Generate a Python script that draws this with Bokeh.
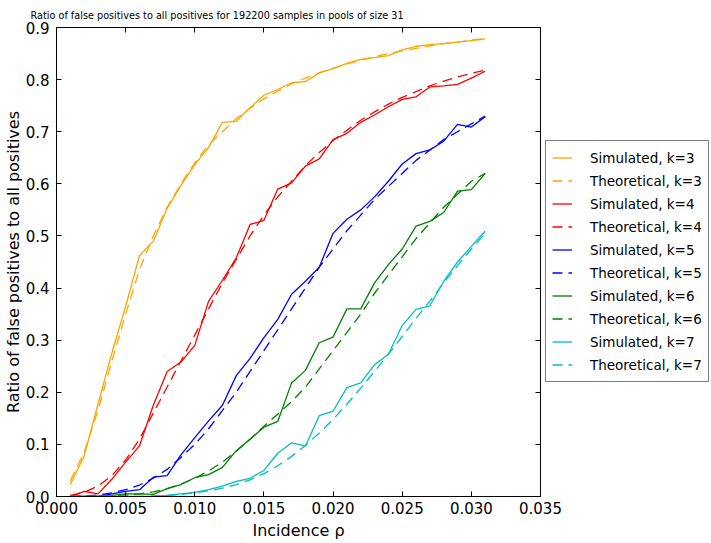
from bokeh.plotting import figure
from bokeh.layouts import row
from bokeh.models import (Range1d, Legend, LegendItem, LinearAxis, SingleIntervalTicker,
                          NumeralTickFormatter, CustomJSTickFormatter)
from bokeh.embed import file_html
from bokeh.resources import INLINE

# ---------------- data ----------------
rho = [0.001, 0.002, 0.003, 0.004, 0.005, 0.006, 0.007, 0.008, 0.009, 0.010,
       0.011, 0.012, 0.013, 0.014, 0.015, 0.016, 0.017, 0.018, 0.019, 0.020,
       0.021, 0.022, 0.023, 0.024, 0.025, 0.026, 0.027, 0.028, 0.029, 0.030, 0.031]

sim_k3 = [0.023, 0.078, 0.177, 0.275, 0.365, 0.462, 0.490, 0.553, 0.597, 0.637,
          0.670, 0.718, 0.720, 0.746, 0.770, 0.781, 0.794, 0.796, 0.813, 0.821,
          0.831, 0.839, 0.842, 0.846, 0.857, 0.864, 0.867, 0.869, 0.872, 0.875, 0.878]
theo_k3 = [0.030, 0.085, 0.165, 0.260, 0.350, 0.435, 0.500, 0.555, 0.600, 0.640,
           0.675, 0.700, 0.725, 0.745, 0.763, 0.778, 0.792, 0.803, 0.813, 0.822,
           0.830, 0.837, 0.844, 0.850, 0.855, 0.860, 0.865, 0.869, 0.872, 0.876, 0.879]

sim_k4 = [0.000, 0.010, 0.005, 0.033, 0.066, 0.097, 0.175, 0.240, 0.258, 0.290,
          0.375, 0.415, 0.458, 0.522, 0.530, 0.590, 0.602, 0.634, 0.648, 0.685,
          0.697, 0.718, 0.732, 0.748, 0.762, 0.767, 0.786, 0.788, 0.791, 0.803, 0.816]
theo_k4 = [0.002, 0.008, 0.020, 0.040, 0.070, 0.110, 0.160, 0.210, 0.260, 0.310,
           0.360, 0.410, 0.455, 0.500, 0.540, 0.575, 0.605, 0.635, 0.660, 0.683,
           0.703, 0.722, 0.738, 0.753, 0.766, 0.777, 0.788, 0.797, 0.805, 0.812, 0.818]

sim_k5 = [0.000, 0.000, 0.000, 0.005, 0.010, 0.013, 0.037, 0.040, 0.080, 0.113,
          0.145, 0.175, 0.232, 0.265, 0.305, 0.340, 0.388, 0.413, 0.440, 0.505,
          0.532, 0.550, 0.575, 0.605, 0.638, 0.658, 0.665, 0.682, 0.714, 0.709, 0.729]
theo_k5 = [0.000, 0.001, 0.003, 0.007, 0.013, 0.022, 0.035, 0.052, 0.075, 0.100,
           0.130, 0.165, 0.200, 0.240, 0.280, 0.320, 0.360, 0.400, 0.440, 0.475,
           0.510, 0.540, 0.570, 0.595, 0.620, 0.645, 0.665, 0.685, 0.700, 0.715, 0.730]

sim_k6 = [0.000, 0.000, 0.000, 0.002, 0.005, 0.005, 0.004, 0.015, 0.023, 0.036,
          0.042, 0.056, 0.088, 0.110, 0.133, 0.144, 0.218, 0.242, 0.295, 0.306,
          0.360, 0.360, 0.410, 0.445, 0.475, 0.519, 0.528, 0.545, 0.586, 0.589, 0.620]
theo_k6 = [0.000, 0.000, 0.000, 0.001, 0.003, 0.005, 0.009, 0.015, 0.024, 0.035,
           0.049, 0.066, 0.087, 0.110, 0.135, 0.158, 0.182, 0.210, 0.245, 0.280,
           0.315, 0.350, 0.390, 0.425, 0.460, 0.495, 0.525, 0.555, 0.580, 0.605, 0.620]

sim_k7 = [0.000, 0.000, 0.000, 0.000, 0.000, 0.000, 0.000, 0.002, 0.005, 0.008,
          0.013, 0.020, 0.029, 0.035, 0.050, 0.083, 0.103, 0.097, 0.155, 0.164,
          0.209, 0.218, 0.253, 0.273, 0.328, 0.359, 0.366, 0.413, 0.450, 0.480, 0.509]
theo_k7 = [0.000, 0.000, 0.000, 0.000, 0.000, 0.000, 0.001, 0.002, 0.004, 0.007,
           0.011, 0.016, 0.023, 0.032, 0.044, 0.059, 0.077, 0.098, 0.122, 0.148,
           0.177, 0.208, 0.240, 0.273, 0.307, 0.342, 0.375, 0.410, 0.443, 0.475, 0.505]

k_values = [3, 4, 5, 6, 7]
colors = ["#FFA500", "#FF0000", "#0000FF", "#008000", "#00BFBF"]
sims = [sim_k3, sim_k4, sim_k5, sim_k6, sim_k7]
theos = [theo_k3, theo_k4, theo_k5, theo_k6, theo_k7]

title_text = "Ratio of false positives to all positives for 192200 samples in pools of size 31"
x_label = "Incidence \u03c1"
y_label = "Ratio of false positives to all positives"

FONT = "DejaVu Sans"
DASH = "10 6"
LW = 1.3

# ---------------- main figure ----------------
p = figure(frame_width=484, frame_height=469, output_backend="svg", toolbar_location=None,
           x_range=Range1d(0, 0.035), y_range=Range1d(0, 0.9),
           min_border_left=0, min_border_right=24, min_border_top=26, min_border_bottom=0,
           background_fill_color="white", border_fill_color="white")
p.xgrid.visible = False
p.ygrid.visible = False
p.outline_line_color = "black"
p.outline_line_width = 1

xt = SingleIntervalTicker(interval=0.005, num_minor_ticks=0)
yt = SingleIntervalTicker(interval=0.1, num_minor_ticks=0)


def style_axis(ax):
    ax.major_tick_in = 5
    ax.major_tick_out = 0
    ax.minor_tick_in = 0
    ax.minor_tick_out = 0
    ax.axis_line_color = "black"
    ax.major_tick_line_color = "black"
    ax.major_label_text_font = FONT
    ax.major_label_text_font_size = "15px"
    ax.major_label_text_color = "black"
    ax.axis_label_text_font = FONT
    ax.axis_label_text_font_size = "16px"
    ax.axis_label_text_font_style = "normal"
    ax.axis_label_text_color = "black"


xa = p.xaxis[0]
xa.ticker = xt
xa.formatter = NumeralTickFormatter(format="0.000")
style_axis(xa)
xa.major_label_standoff = 5
xa.axis_label = x_label
xa.axis_label_standoff = 4

ya = p.yaxis[0]
ya.ticker = yt
ya.formatter = NumeralTickFormatter(format="0.0")
style_axis(ya)
ya.major_label_standoff = 7
ya.axis_label = y_label
ya.axis_label_standoff = 0

blank = CustomJSTickFormatter(code="return '';")
top = LinearAxis(ticker=xt, formatter=blank)
style_axis(top)
top.major_label_standoff = 0
p.add_layout(top, "above")

right = LinearAxis(ticker=yt, formatter=blank)
style_axis(right)
right.major_label_standoff = 0
p.add_layout(right, "right")

for k, sim, theo, c in zip(k_values, sims, theos, colors):
    p.line(rho, sim, line_color=c, line_width=LW)
    p.line(rho, theo, line_color=c, line_width=LW, line_dash=DASH)

p.title.text = title_text
p.title.align = "left"
p.title.offset = -26
p.title.text_font = FONT
p.title.text_font_size = "9.7px"
p.title.text_font_style = "normal"
p.title.text_color = "black"
p.title.standoff = 14

# ---------------- legend panel ----------------
# the same series are drawn here outside the visible range, only to feed the legend swatches
lg = figure(width=168, height=535, output_backend="svg", toolbar_location=None,
            x_range=Range1d(10, 11), y_range=Range1d(10, 11),
            x_axis_type=None, y_axis_type=None,
            min_border_left=0, min_border_right=0, min_border_top=0, min_border_bottom=0,
            background_fill_color=None, border_fill_color=None,
            margin=(0, 0, 0, -22))
lg.outline_line_color = None

items = []
for k, sim, theo, c in zip(k_values, sims, theos, colors):
    s = lg.line(rho, sim, line_color=c, line_width=LW)
    t = lg.line(rho, theo, line_color=c, line_width=LW, line_dash=DASH)
    items.append(LegendItem(label="Simulated, k=%d" % k, renderers=[s]))
    items.append(LegendItem(label="Theoretical, k=%d" % k, renderers=[t]))

legend = Legend(items=items, location=(3, 107))
legend.border_line_color = "black"
legend.border_line_width = 1
legend.background_fill_color = "white"
legend.background_fill_alpha = 1
legend.label_text_font = FONT
legend.label_text_font_size = "13.5px"
legend.label_text_color = "black"
legend.glyph_width = 20
legend.glyph_height = 21
legend.label_height = 21
legend.spacing = 2
legend.padding = 6
legend.label_standoff = 18
legend.margin = 0
lg.add_layout(legend, "center")

layout = row(p, lg, spacing=0)
open("out.html", "w").write(file_html(layout, INLINE))
